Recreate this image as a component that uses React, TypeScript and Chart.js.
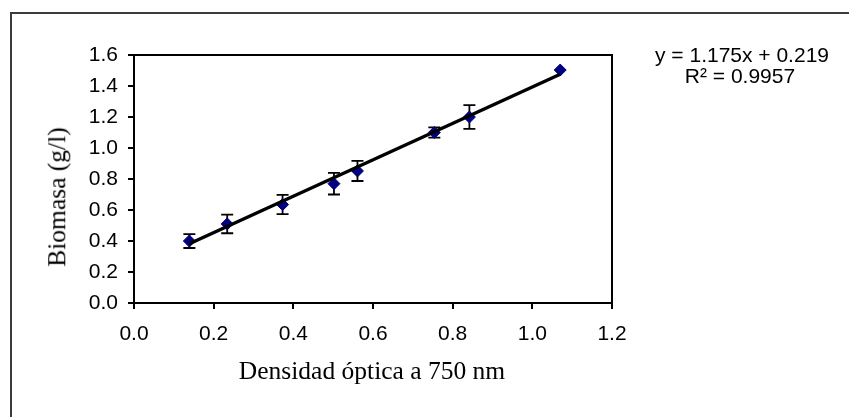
import React, { useEffect, useRef } from "react";
import { Chart, registerables } from "chart.js";

Chart.register(...registerables);

// Densidad óptica a 750 nm (x) and Biomasa (g/l) (y)
const densidad = [0.139, 0.234, 0.373, 0.502, 0.561, 0.754, 0.842, 1.07];
const biomasa = [0.4, 0.51, 0.635, 0.77, 0.852, 1.1, 1.2, 1.503];
const errores = [0.045, 0.06, 0.062, 0.07, 0.065, 0.033, 0.077, 0];

// Linear trend line shown in the chart
const pendiente = 1.175;
const intercepto = 0.219;
const ecuacion = "y = 1.175x + 0.219";
const rCuadrado = "R\u00B2 = 0.9957";

const xTicks = [0, 0.2, 0.4, 0.6, 0.8, 1.0, 1.2];
const yTicks = [0, 0.2, 0.4, 0.6, 0.8, 1.0, 1.2, 1.4, 1.6];

const xTitle = "Densidad óptica a 750 nm";
const yTitle = "Biomasa (g/l)";

const SANS = '"Liberation Sans", Arial, sans-serif';
const SERIF = '"Liberation Serif", "Times New Roman", serif';

const errorBarPlugin = {
  id: "errorBars",
  beforeDatasetsDraw(chart: any) {
    const { ctx } = chart;
    const x = chart.scales.x;
    const y = chart.scales.y;
    ctx.save();
    ctx.strokeStyle = "#000";
    ctx.lineWidth = 1.8;
    densidad.forEach((xv, i) => {
      const e = errores[i];
      if (!e) return;
      const px = x.getPixelForValue(xv);
      const top = y.getPixelForValue(biomasa[i] + e);
      const bot = y.getPixelForValue(biomasa[i] - e);
      ctx.beginPath();
      ctx.moveTo(px, top);
      ctx.lineTo(px, bot);
      ctx.moveTo(px - 6, top);
      ctx.lineTo(px + 6, top);
      ctx.moveTo(px - 6, bot);
      ctx.lineTo(px + 6, bot);
      ctx.stroke();
    });
    ctx.restore();
  },
};

const framePlugin = {
  id: "plotFrame",
  afterDraw(chart: any) {
    const { ctx, chartArea } = chart;
    ctx.save();
    ctx.strokeStyle = "#000";
    ctx.lineWidth = 2;
    ctx.strokeRect(
      chartArea.left,
      chartArea.top,
      chartArea.right - chartArea.left,
      chartArea.bottom - chartArea.top
    );
    ctx.restore();
  },
};

export default function App() {
  const canvasRef = useRef<HTMLCanvasElement | null>(null);

  useEffect(() => {
    if (!canvasRef.current) return;
    const xMin = densidad[0];
    const xMax = densidad[densidad.length - 1];
    const trend = [
      { x: xMin, y: pendiente * xMin + intercepto },
      { x: xMax, y: pendiente * xMax + intercepto },
    ];
    const points = densidad.map((x, i) => ({ x, y: biomasa[i] }));

    const tickFont = { family: SANS, size: 21 };

    const chart = new Chart(canvasRef.current, {
      type: "scatter",
      data: {
        datasets: [
          {
            label: "Tendencia",
            data: trend,
            showLine: true,
            borderColor: "#000",
            borderWidth: 3.4,
            pointRadius: 0,
            fill: false,
          } as any,
          {
            label: "Biomasa",
            data: points,
            showLine: false,
            pointStyle: "rectRot",
            pointRadius: 6,
            backgroundColor: "#000080",
            borderColor: "#000080",
            borderWidth: 1,
          } as any,
        ],
      },
      options: {
        responsive: false,
        animation: false,
        events: [],
        layout: { padding: { left: 0, top: 55, right: 237, bottom: 0 } },
        plugins: {
          legend: { display: false },
          tooltip: { enabled: false },
          title: { display: false },
        },
        scales: {
          x: {
            type: "linear",
            min: 0,
            max: 1.2,
            afterBuildTicks: (s: any) => {
              s.ticks = xTicks.map((v) => ({ value: v }));
            },
            afterFit: (s: any) => {
              s.height = 114;
            },
            grid: {
              drawOnChartArea: false,
              drawTicks: true,
              tickLength: 6,
              color: "#000",
              lineWidth: 2,
            },
            border: { display: true, color: "#000", width: 2 },
            ticks: {
              padding: 13,
              color: "#000",
              font: tickFont,
              maxRotation: 0,
              autoSkip: false,
              callback: (v: any) => Number(v).toFixed(1),
            },
          },
          y: {
            type: "linear",
            min: 0,
            max: 1.6,
            afterBuildTicks: (s: any) => {
              s.ticks = yTicks.map((v) => ({ value: v }));
            },
            afterFit: (s: any) => {
              s.width = 134;
            },
            grid: {
              drawOnChartArea: false,
              drawTicks: true,
              tickLength: 6,
              color: "#000",
              lineWidth: 2,
            },
            border: { display: true, color: "#000", width: 2 },
            ticks: {
              padding: 10,
              color: "#000",
              font: tickFont,
              autoSkip: false,
              callback: (v: any) => Number(v).toFixed(1),
            },
          },
        },
      },
      plugins: [errorBarPlugin, framePlugin],
    });
    return () => chart.destroy();
  }, []);

  return (
    <div
      style={{
        position: "fixed",
        left: 0,
        top: 0,
        width: 849,
        height: 417,
        overflow: "hidden",
        background: "#fff",
      }}
    >
      <div
        style={{
          position: "absolute",
          left: 10,
          top: 12,
          width: 900,
          height: 500,
          border: "2px solid #3c3c3c",
          boxSizing: "border-box",
        }}
      />
      <canvas
        ref={canvasRef}
        width={849}
        height={417}
        style={{ position: "absolute", left: 0, top: 0, width: 849, height: 417 }}
      />
      <div
        style={{
          position: "absolute",
          left: 57,
          top: 197,
          transform: "translate(-50%, -50%) rotate(-90deg)",
          fontFamily: SERIF,
          fontSize: 25.5,
          lineHeight: 1,
          whiteSpace: "nowrap",
          color: "#000",
        }}
      >
        {yTitle}
      </div>
      <div
        style={{
          position: "absolute",
          left: 372,
          top: 358,
          transform: "translateX(-50%)",
          fontFamily: SERIF,
          fontSize: 25.5,
          lineHeight: "26px",
          whiteSpace: "nowrap",
          color: "#000",
        }}
      >
        {xTitle}
      </div>
      <div
        style={{
          position: "absolute",
          left: 742,
          top: 44,
          transform: "translateX(-50%)",
          fontFamily: SANS,
          fontSize: 21,
          lineHeight: "21px",
          whiteSpace: "nowrap",
          color: "#000",
        }}
      >
        {ecuacion}
      </div>
      <div
        style={{
          position: "absolute",
          left: 740,
          top: 65,
          transform: "translateX(-50%)",
          fontFamily: SANS,
          fontSize: 21,
          lineHeight: "21px",
          whiteSpace: "nowrap",
          color: "#000",
        }}
      >
        {rCuadrado}
      </div>
    </div>
  );
}
